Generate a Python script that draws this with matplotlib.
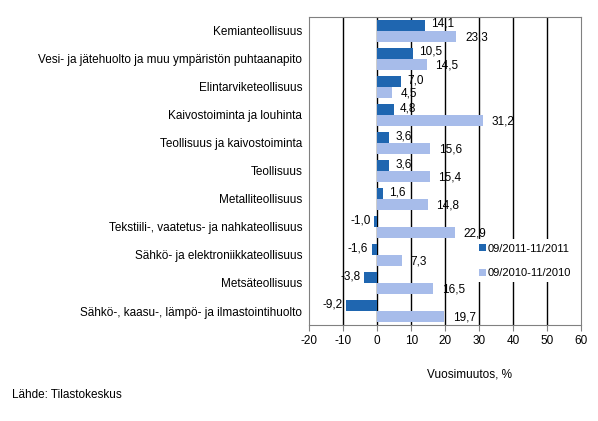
import numpy as np
import matplotlib.pyplot as plt

plt.rcParams['font.family'] = ['Liberation Sans', 'DejaVu Sans']

categories = [
    'Kemianteollisuus',
    'Vesi- ja jätehuolto ja muu ympäristön puhtaanapito',
    'Elintarviketeollisuus',
    'Kaivostoiminta ja louhinta',
    'Teollisuus ja kaivostoiminta',
    'Teollisuus',
    'Metalliteollisuus',
    'Tekstiili-, vaatetus- ja nahkateollisuus',
    'Sähkö- ja elektroniikkateollisuus',
    'Metsäteollisuus',
    'Sähkö-, kaasu-, lämpö- ja ilmastointihuolto',
]
s2011 = [14.1, 10.5, 7.0, 4.8, 3.6, 3.6, 1.6, -1.0, -1.6, -3.8, -9.2]
s2010 = [23.3, 14.5, 4.5, 31.2, 15.6, 15.4, 14.8, 22.9, 7.3, 16.5, 19.7]
labels = ['09/2011-11/2011', '09/2010-11/2010']
xticks = [-20, -10, 0, 10, 20, 30, 40, 50, 60]

dark = '#1F66B0'
light = '#A7BCEA'

fig = plt.figure(figsize=(5.98, 4.21), dpi=100)
ax = fig.add_axes([0.517, 0.228, 0.455, 0.732])

y = np.arange(len(categories))
h = 0.39
ax.barh(y - h / 2, s2011, height=h, color=dark, label=labels[0], zorder=3)
ax.barh(y + h / 2, s2010, height=h, color=light, label=labels[1], zorder=3)

def fmt(v):
    return ('%.1f' % v).replace('.', ',')

for yi, v in zip(y, s2011):
    if v >= 0:
        ax.text(v + 1.8, yi - h / 2 - 0.05, fmt(v), va='center', ha='left', fontsize=8.5, zorder=4)
    else:
        ax.text(v - 1.0, yi - h / 2 - 0.05, fmt(v), va='center', ha='right', fontsize=8.5, zorder=4)
for yi, v in zip(y, s2010):
    ax.text(v + 2.5, yi + h / 2 + 0.05, fmt(v), va='center', ha='left', fontsize=8.5, zorder=4)

ax.set_xlim(-20, 60)
ax.set_ylim(len(categories) - 0.5, -0.5)
ax.set_xticks(xticks)
ax.set_xticklabels([str(t) for t in xticks], fontsize=8.5)
ax.set_yticks(y)
ax.set_yticklabels(categories, fontsize=8.5)
ax.tick_params(axis='y', length=0, pad=5)
ax.tick_params(axis='x', length=4, color='#808080', pad=3)
for t in xticks[1:-1]:
    ax.axvline(t, color='black', lw=1, zorder=1)
for s in ax.spines.values():
    s.set_color('#808080')

ax.set_xlabel('Vuosimuutos, %', fontsize=8.5, labelpad=15)
ax.xaxis.set_label_coords(0.59, -0.14)

leg = ax.legend(loc='lower right', bbox_to_anchor=(1.0, 0.12), fontsize=8,
                frameon=True, fancybox=False, edgecolor='none', framealpha=1,
                handlelength=0.6, handleheight=0.6, handletextpad=0.2,
                labelspacing=1.3, borderpad=0.4)
leg.set_zorder(5)

fig.text(0.02, 0.055, 'Lähde: Tilastokeskus', fontsize=8.5)

fig.savefig('out.png', dpi=100)
